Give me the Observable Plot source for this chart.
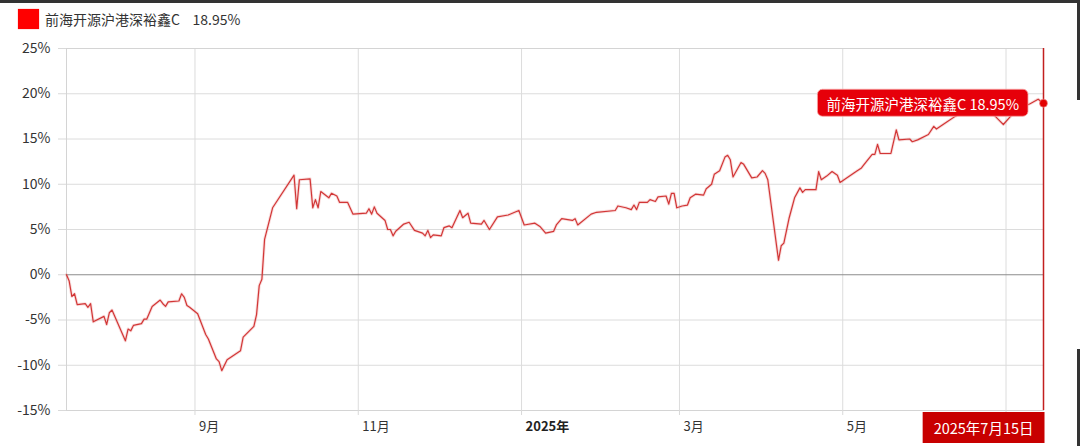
<!DOCTYPE html>
<html><head><meta charset="utf-8">
<script src="https://cdn.jsdelivr.net/npm/d3@7"></script>
<script src="https://cdn.jsdelivr.net/npm/@observablehq/plot@0.6"></script>
<style>
html,body{margin:0;padding:0;background:#fff;}
body{font-family:"Noto Sans CJK SC","Noto Sans",sans-serif;}
#wrap{position:relative;width:1080px;height:446px;overflow:hidden;}
#legend{position:absolute;left:18px;top:9px;display:flex;align-items:center;font-size:14px;color:#333;white-space:pre;line-height:20px;}
#legend .sw{width:21px;height:20px;background:#f00;margin-right:6px;box-shadow:0 0 1px #f66;}
.art{position:absolute;background:#333;}
svg g[aria-label="y-axis tick"], svg g[aria-label="x-axis tick"]{stroke:#d9d9d9;}
</style></head>
<body>
<div id="wrap">
  <div id="chart"></div>
  <div id="legend"><div class="sw"></div><span id="legtext"></span></div>
  <div class="art" style="left:0;top:0;width:1080px;height:3px;"></div>
  <div class="art" style="left:1077px;top:0;width:3px;height:100px;"></div>
  <div class="art" style="left:1077px;top:349px;width:3px;height:97px;"></div>
</div>
<script>
const fundName = "前海开源沪港深裕鑫C";
const lastValueText = "18.95%";
const lastDateText = "2025年7月15日";

const dates = [
"2024-07-15","2024-07-16","2024-07-17","2024-07-18","2024-07-19","2024-07-22","2024-07-23","2024-07-24","2024-07-25","2024-07-29",
"2024-07-30","2024-07-31","2024-08-01","2024-08-06","2024-08-07","2024-08-08","2024-08-09","2024-08-12","2024-08-13","2024-08-14",
"2024-08-16","2024-08-19","2024-08-20","2024-08-21","2024-08-22","2024-08-26","2024-08-27","2024-08-28","2024-08-29","2024-08-30",
"2024-09-02","2024-09-05","2024-09-06","2024-09-09","2024-09-10","2024-09-11","2024-09-13","2024-09-18","2024-09-19","2024-09-23",
"2024-09-24","2024-09-25","2024-09-26","2024-09-27","2024-09-30","2024-10-08","2024-10-09","2024-10-10","2024-10-14","2024-10-15",
"2024-10-16","2024-10-17","2024-10-18","2024-10-21","2024-10-22","2024-10-24","2024-10-25","2024-10-28","2024-10-30","2024-11-04",
"2024-11-05","2024-11-06","2024-11-07","2024-11-08","2024-11-11","2024-11-12","2024-11-13","2024-11-14","2024-11-15","2024-11-18",
"2024-11-20","2024-11-22","2024-11-25","2024-11-26","2024-11-27","2024-11-28","2024-11-29","2024-12-02","2024-12-03","2024-12-05",
"2024-12-06","2024-12-09","2024-12-10","2024-12-12","2024-12-13","2024-12-17","2024-12-18","2024-12-20","2024-12-23","2024-12-27",
"2024-12-31","2025-01-02","2025-01-06","2025-01-08","2025-01-10","2025-01-13","2025-01-14","2025-01-16","2025-01-20","2025-01-21",
"2025-01-22","2025-01-27","2025-01-29","2025-02-05","2025-02-06","2025-02-09","2025-02-11","2025-02-12","2025-02-13","2025-02-14",
"2025-02-17","2025-02-18","2025-02-20","2025-02-21","2025-02-24","2025-02-25","2025-02-26","2025-02-27","2025-02-28","2025-03-02",
"2025-03-04","2025-03-05","2025-03-07","2025-03-10","2025-03-11","2025-03-13","2025-03-14","2025-03-16","2025-03-18","2025-03-19",
"2025-03-20","2025-03-21","2025-03-24","2025-03-25","2025-03-28","2025-03-30","2025-04-01","2025-04-02","2025-04-03","2025-04-07",
"2025-04-08","2025-04-09","2025-04-11","2025-04-13","2025-04-15","2025-04-16","2025-04-17","2025-04-21","2025-04-22","2025-04-23",
"2025-04-25","2025-04-27","2025-04-29","2025-04-30","2025-05-06","2025-05-08","2025-05-09","2025-05-12","2025-05-13","2025-05-14",
"2025-05-15","2025-05-19","2025-05-21","2025-05-22","2025-05-26","2025-05-27","2025-05-29","2025-06-02","2025-06-04","2025-06-05",
"2025-06-09","2025-06-12","2025-06-16","2025-06-20","2025-06-23","2025-06-26","2025-06-28","2025-06-30","2025-07-03","2025-07-06",
"2025-07-10","2025-07-13","2025-07-15"
];
const values = [
0.0,-0.7,-2.4,-2.1,-3.3,-3.2,-3.6,-3.2,-5.2,-4.6,
-5.5,-4.2,-3.9,-7.3,-6.0,-6.2,-5.6,-5.4,-4.9,-4.9,
-3.5,-2.8,-3.2,-3.5,-3.0,-2.9,-2.1,-2.5,-3.4,-3.6,
-4.3,-6.6,-7.1,-9.3,-9.6,-10.6,-9.4,-8.4,-6.9,-5.7,
-4.4,-1.2,-0.5,3.9,7.4,11.0,7.3,10.5,10.6,7.4,
8.3,7.4,9.2,8.5,9.0,8.7,8.0,8.0,6.7,6.8,
7.3,6.7,7.5,6.8,6.0,5.0,5.0,4.3,4.8,5.6,
5.8,4.9,4.6,4.3,4.9,4.1,4.4,4.3,5.2,5.4,
5.2,7.1,6.3,6.8,5.7,5.6,6.0,5.0,6.4,6.6,
7.1,5.5,5.7,5.3,4.6,4.8,5.5,6.2,6.0,6.2,
5.5,6.7,6.9,7.1,7.6,7.4,7.2,7.7,7.2,8.0,
8.0,8.3,8.1,8.6,8.7,7.8,9.0,9.0,7.4,7.6,
7.7,8.5,8.9,8.8,9.5,10.0,11.1,11.5,13.0,13.2,
12.7,10.8,12.4,12.2,10.7,10.8,11.5,11.2,10.5,1.6,
3.2,3.5,6.3,8.5,9.6,9.1,9.4,9.4,11.4,10.5,
10.9,11.4,11.0,10.2,11.4,11.8,12.2,13.3,13.3,14.4,
13.4,13.4,16.0,14.9,15.0,14.7,14.9,15.5,16.4,16.1,
16.9,17.5,18.2,18.6,18.3,17.8,17.2,16.6,17.6,18.4,
18.9,19.4,18.95
];
// month gridlines; the July label is hidden behind the date box in the original
const tickDates = ["2024-09-01","2024-11-01","2025-01-01","2025-03-01","2025-05-01","2025-07-01"];
const tickLabels = ["9月","11月","2025年","3月","5月",""];
const tickBold = [false,false,true,false,false,false];
const yTicks = [-15,-10,-5,0,5,10,15,20,25];
const xDomain = ["2024-07-15","2025-07-15"];

const data = dates.map((d,i)=>({date:new Date(d), value:values[i]}));
const last = data[data.length-1];
const xt = tickDates.map((d,i)=>({date:new Date(d), label:tickLabels[i], bold:tickBold[i]}));
const xtLabeled = xt.filter(d=>d.label);

document.getElementById("legtext").textContent = fundName + "    " + lastValueText;

const plot = Plot.plot({
  width:1080, height:446,
  marginTop:48, marginBottom:36, marginLeft:66, marginRight:37,
  style:{fontFamily:'"Noto Sans CJK SC","Noto Sans",sans-serif', background:"transparent"},
  x:{type:"utc", domain:xDomain.map(d=>new Date(d)), label:null},
  y:{domain:[-15,25], label:null},
  marks:[
    Plot.gridY(yTicks.filter(d=>d!==0), {stroke:"#dcdcdc", strokeOpacity:1}),
    Plot.gridX(xt.map(d=>d.date), {stroke:"#dcdcdc", strokeOpacity:1}),
    Plot.frame({stroke:"#d4d4d4"}),
    Plot.ruleY([0], {stroke:"#8c8c8c", strokeWidth:1}),
    Plot.axisY(yTicks, {tickSize:8, tickFormat:()=>"", color:"#d9d9d9", label:null}),
    Plot.axisY(yTicks, {tickSize:0, tickPadding:16, tickFormat:d=>d+"%", color:"#333", fontSize:14, label:null}),
    Plot.axisX(xt.map(d=>d.date), {tickSize:5, tickFormat:()=>"", color:"#d9d9d9", label:null}),
    Plot.text(xtLabeled.filter(d=>!d.bold), {x:"date", text:"label", frameAnchor:"bottom", dy:20, dx:4, textAnchor:"start", fontSize:13, fill:"#333"}),
    Plot.text(xtLabeled.filter(d=>d.bold), {x:"date", text:"label", frameAnchor:"bottom", dy:20, dx:4, textAnchor:"start", fontSize:13, fontWeight:"bold", fill:"#222"}),
    Plot.line(data, {x:"date", y:"value", stroke:"#e06060", strokeWidth:3, strokeOpacity:0.22}),
    Plot.line(data, {x:"date", y:"value", stroke:"#d23636", strokeWidth:1.2}),
    Plot.ruleX([last], {x:"date", stroke:"#c21f1f", strokeWidth:1.5}),
    Plot.dot([last], {x:"date", y:"value", r:4, fill:"#e30000", stroke:"#f29a9a", strokeWidth:0.6})
  ]
});
document.getElementById("chart").appendChild(plot);

// annotations positioned through the plot's own scales
const sx = plot.scale("x"), sy = plot.scale("y");
const px = sx.apply(last.date), py = sy.apply(last.value);
const svg = d3.select(plot);
const font = '"Noto Sans CJK SC","Noto Sans",sans-serif';

// tooltip bubble
const tg = svg.append("g").attr("text-anchor","start");
const trect = tg.append("rect").attr("fill","#e6000a").attr("stroke","#f7a5a5").attr("stroke-width",0.8).attr("rx",5);
const ttext = tg.append("text").attr("fill","#fff").attr("font-size",14.5).attr("font-family",font)
  .attr("text-anchor","start").attr("dominant-baseline","central").text(fundName + " " + lastValueText);
const tw = ttext.node().getComputedTextLength();
const bx2 = px - 15, bx1 = bx2 - tw - 18;
trect.attr("x",bx1).attr("y",py-13.5).attr("width",bx2-bx1).attr("height",27);
ttext.attr("x",bx1+9).attr("y",py+0.5);

// date label at the bottom
const dg = svg.append("g");
const drect = dg.append("rect").attr("fill","#c80000");
const dtext = dg.append("text").attr("fill","#fff").attr("font-size",14.5).attr("font-family",font)
  .attr("dominant-baseline","central").attr("text-anchor","middle").text(lastDateText);
const dw = dtext.node().getComputedTextLength();
const bottom = sy.apply(-15);
const dx2 = px + 1.5, dx1 = dx2 - dw - 22;
drect.attr("x",dx1).attr("y",bottom+2).attr("width",dx2-dx1).attr("height",31);
dtext.attr("x",(dx1+dx2)/2).attr("y",bottom+17.5);
</script>
</body></html>
